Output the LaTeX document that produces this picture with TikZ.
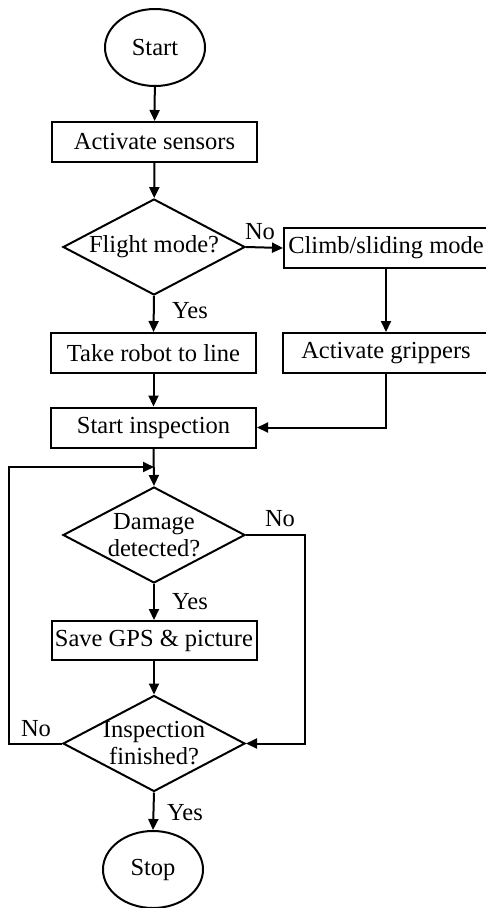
\documentclass[tikz,border=0pt]{standalone}
\usepackage{fontspec}
\setmainfont{Liberation Serif}
\usetikzlibrary{shapes.geometric,arrows.meta}
\begin{document}
\begin{tikzpicture}[x=1pt,y=-1pt,
  every node/.style={font=\fontsize{24.5}{25}\selectfont},
  ln/.style={line width=2pt},
  arr/.style={ln,-{Triangle[length=11pt,width=10pt]}},
  term/.style={draw,ln,ellipse,minimum width=100pt,minimum height=77pt,inner sep=0pt},
  proc/.style={draw,ln,rectangle,minimum width=205pt,minimum height=40pt,inner sep=0pt},
  dec/.style={draw,ln,diamond,aspect=1.9,minimum width=182pt,minimum height=96pt,inner sep=-4pt,align=center},
  lbl/.style={inner sep=0pt}]
\useasboundingbox (0,0) rectangle (485,908);
\node[term] (start) at (155,47.5) {Start};
\node[proc] (sens) at (154.5,142) {Activate sensors};
\node[dec] (flight) at (154,247) {Flight mode?};
\node[proc,minimum width=204pt] (climb) at (386,248) {Climb/sliding mode};
\node[proc] (take) at (153.5,353) {Take robot to line};
\node[proc,minimum width=206pt] (grip) at (386,353) {Activate grippers};
\node[proc] (si) at (153.5,427.5) {Start inspection};
\coordinate (m) at (154,467);
\node[dec] (dmg) at (154,535) {Damage\\[2pt]detected?};
\node[proc,minimum height=39pt] (save) at (154,640.5) {Save GPS \& picture};
\node[dec] (fin) at (154,743.5) {Inspection\\[2pt]finished?};
\node[term] (stop) at (153,869.5) {Stop};

\draw[arr] (start) -- (sens);
\draw[arr] (sens) -- (flight);
\draw[arr] (flight.east) -- (climb.west);
\draw[arr] (flight.south) -- (take.north);
\draw[arr] (climb) -- (grip);
\draw[arr] (take) -- (si);
\draw[arr] (grip.south) |- (si.east);
\draw[arr] (si.south) -- (dmg.north);
\draw[arr] (dmg.south) -- (save.north);
\draw[arr] (save) -- (fin.north);
\draw[arr] (dmg.east) -| (305,640) |- (fin.east);
\draw[arr] (fin.west) -| (9,600) |- (m);
\draw[arr] (fin.south) -- (stop.north);

\node[lbl] (n1) at (260,232) {No};
\node[lbl] (y1) at (190,311) {Yes};
\node[lbl] (n2) at (280,519) {No};
\node[lbl] (y2) at (190,602) {Yes};
\node[lbl] (n3) at (36,729) {No};
\node[lbl] (y3) at (185,813) {Yes};
\end{tikzpicture}
\end{document}
